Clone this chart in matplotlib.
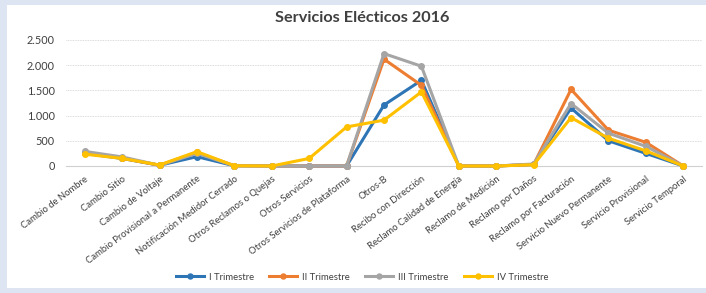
import matplotlib
matplotlib.use('Agg')
from matplotlib import pyplot as plt
from matplotlib.ticker import FuncFormatter
from matplotlib.patches import Rectangle

categories = ['Cambio de Nombre', 'Cambio Sitio', 'Cambio de Voltaje',
              'Cambio Provisional a Permanente', 'Notificación Medidor Cerrado',
              'Otros Reclamos o Quejas', 'Otros Servicios',
              'Otros Servicios de Plataforma', 'Otros-B', 'Recibo con Dirección',
              'Reclamo Calidad de Energía', 'Reclamo de Medición', 'Reclamo por Daños',
              'Reclamo por Facturación', 'Servicio Nuevo Permanente',
              'Servicio Provisional', 'Servicio Temporal']

trim_1 = [250, 150, 15, 185, 5, 0, 0, 0, 1210, 1700, 0, 0, 30, 1150, 500, 250, 0]
trim_2 = [260, 155, 15, 270, 5, 0, 0, 0, 2120, 1600, 0, 0, 30, 1520, 710, 470, 0]
trim_3 = [290, 180, 15, 250, 5, 0, 0, 0, 2230, 1980, 0, 0, 40, 1240, 650, 390, 0]
trim_4 = [235, 150, 20, 285, 5, 0, 150, 775, 910, 1470, 0, 0, 25, 960, 550, 300, 0]

series = [('I Trimestre', trim_1, '#2E75B6'),
          ('II Trimestre', trim_2, '#ED7D31'),
          ('III Trimestre', trim_3, '#A5A5A5'),
          ('IV Trimestre', trim_4, '#FFC000')]

plt.rcParams['font.family'] = ['Lato', 'DejaVu Sans']

fig = plt.figure(figsize=(7.06, 2.93), dpi=100, facecolor='#dde5f3')
# white chart area over the bluish scan border
fig.patches.append(Rectangle((7 / 706, 5 / 293), 699 / 706, 283 / 293,
                             transform=fig.transFigure, facecolor='white',
                             edgecolor='none', zorder=-10))

ax = fig.add_axes([66 / 706, 127 / 293, 636 / 706, 126 / 293])
ax.set_facecolor('none')
ax.set_zorder(1)

x = list(range(len(categories)))
for name, vals, color in series:
    ax.plot(x, vals, color=color, lw=2.2, marker='o', ms=4, label=name,
            clip_on=False, zorder=3)

ax.set_xlim(-0.5, len(categories) - 0.5)
ax.set_ylim(0, 2500)
ax.set_yticks(range(0, 2501, 500))
ax.yaxis.set_major_formatter(FuncFormatter(lambda v, p: f'{int(v):,}'.replace(',', '.')))
ax.grid(axis='y', color='#d0d0d0', lw=0.6, linestyle=(0, (1, 1)))
ax.set_axisbelow(True)

for s in ['top', 'right', 'left']:
    ax.spines[s].set_visible(False)
ax.spines['bottom'].set_color('#d0d0d0')

ax.set_xticks(x)
ax.set_xticklabels(categories, rotation=37, ha='right', rotation_mode='anchor',
                   fontsize=6.8, color='#404040')
ax.tick_params(axis='x', length=0, pad=6)
ax.tick_params(axis='y', length=0, labelsize=7.8, labelcolor='#404040', pad=8)

fig.text(362 / 706, 1 - 18 / 293, 'Servicios Elécticos 2016', ha='center', va='center',
         fontsize=11.7, fontweight='bold', color='#404040')

fig.legend(loc='center', bbox_to_anchor=(362 / 706, 16 / 293), ncol=4, frameon=False,
           fontsize=6.8, labelcolor='#404040', handlelength=3.0, handletextpad=0.5,
           columnspacing=1.6, markerscale=0.9)

plt.savefig('out.png', dpi=100, facecolor=fig.get_facecolor())
